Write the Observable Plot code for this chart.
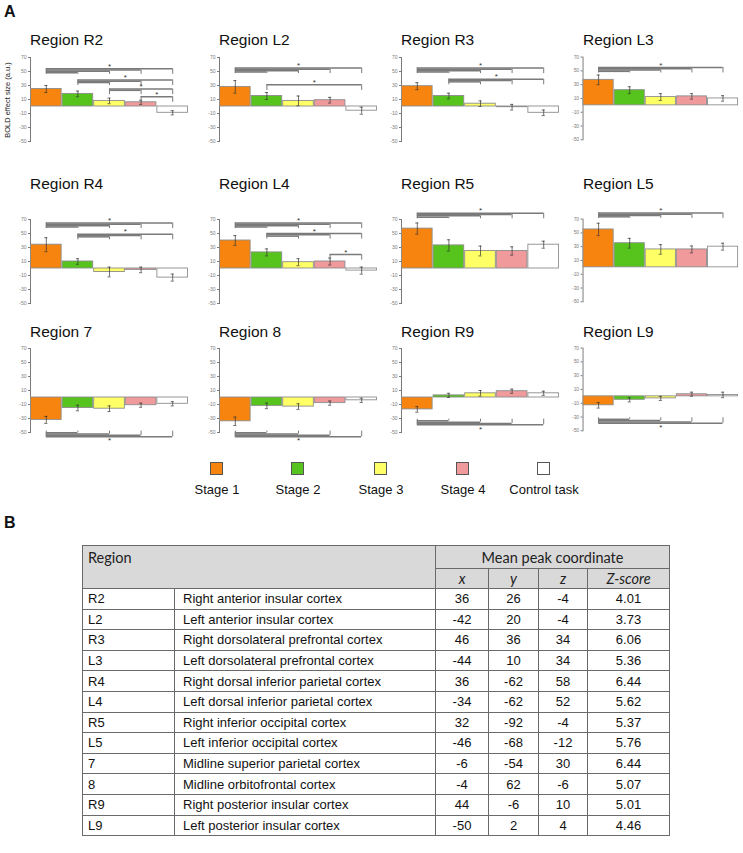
<!DOCTYPE html>
<html>
<head>
<meta charset="utf-8">
<script src="https://cdn.jsdelivr.net/npm/d3@7"></script>
<script src="https://cdn.jsdelivr.net/npm/@observablehq/plot@0.6"></script>
<style>
  html, body { margin: 0; padding: 0; background: #fff; }
  #page { position: relative; width: 743px; height: 853px; overflow: hidden; font-family: "Liberation Sans", Arial, sans-serif; color: #111; }
  .abs { position: absolute; }
  .panel-title { font-size: 15.5px; line-height: 16px; white-space: nowrap; color: #111; }
  .letter { font-weight: bold; font-size: 16px; line-height: 16px; }
  .leg-sw { position: absolute; width: 13px; height: 13px; border: 1px solid #555; box-sizing: border-box; }
  .leg-lab { position: absolute; font-size: 13px; line-height: 13px; white-space: nowrap; transform: translateX(-50%); }
  table.tb { position: absolute; left: 82px; top: 545px; border-collapse: collapse; table-layout: fixed; width: 587px; }
  table.tb td { border: 1px solid #6a6a6a; padding: 0; font-size: 13px; color: #111; }
  table.tb tr.h1 td, table.tb tr.h2 td { background: #d9d9d9; font-family: Lato, "Open Sans", sans-serif; font-size: 14.5px; color: #222; }
  table.tb tr.h1 td { height: 22px; }
  table.tb tr.h2 td { height: 19px; font-style: italic; text-align: center; }
  table.tb tr.d td { height: 19.6px; }
  table.tb td.c { text-align: center; }
</style>
</head>
<body>
<div id="page"></div>
<script>
// ---------- data ----------
const stages = ["Stage 1", "Stage 2", "Stage 3", "Stage 4", "Control task"];
const stageColors = ["#f7840f", "#56c41c", "#ffff66", "#f09a9c", "#ffffff"];
const regions = ["R2", "L2", "R3", "L3", "R4", "L4", "R5", "L5", "7", "8", "R9", "L9"];
const yTicks = [70, 50, 30, 10, -10, -30, -50];

// mean BOLD effect size per region (stage 1..4, control)
const means = [
  [25, 18, 8, 6, -9],
  [28, 15, 8, 9, -6],
  [29, 15, 4, -1, -9],
  [37, 22, 12, 13, 10],
  [34, 10, -5, -2, -13],
  [40, 23, 9, 10, -3],
  [57, 33, 25, 25, 34],
  [55, 35, 26, 26, 30],
  [-32, -15, -16, -11, -9],
  [-34, -12, -13, -8, -4],
  [-17, 3, 6, 9, 6],
  [-13, -5, -3, 3, 2]
];
// error bar half-lengths
const errors = [
  [5, 4, 4, 3, 3],
  [9, 5, 7, 4, 5],
  [5, 4, 4, 4, 4],
  [7, 5, 5, 4, 4],
  [10, 4, 7, 4, 5],
  [7, 5, 5, 5, 5],
  [8, 8, 7, 6, 5],
  [9, 7, 7, 5, 5],
  [5, 4, 4, 3, 3],
  [6, 4, 4, 3, 3],
  [4, 3, 4, 3, 3],
  [4, 3, 3, 3, 4]
];
// significance brackets: [from bar, [to bars], level (negative = below)]
const brackets = [
  [[0, [1, 2, 3, 4], 54], [1, [2, 3, 4], 38], [2, [3, 4], 25], [3, [4], 14]],
  [[0, [1, 2, 3, 4], 55], [1, [4], 31]],
  [[0, [1, 2, 3, 4], 55], [1, [2, 3, 4], 39]],
  [[0, [1, 2, 3, 4], 55]],
  [[0, [1, 2, 3, 4], 65], [1, [2, 3, 4], 49]],
  [[0, [1, 2, 3, 4], 65], [1, [2, 3, 4], 50], [3, [4], 20]],
  [[0, [1, 2, 3, 4], 79]],
  [[0, [1, 2, 3, 4], 79]],
  [[0, [1, 2, 3, 4], -56]],
  [[0, [1, 2, 3, 4], -56]],
  [[0, [1, 2, 3, 4], -39]],
  [[0, [1, 2, 3, 4], -39]]
];

// table
const tRegion = ["R2", "L2", "R3", "L3", "R4", "L4", "R5", "L5", "7", "8", "R9", "L9"];
const tName = [
  "Right anterior insular cortex", "Left anterior insular cortex",
  "Right dorsolateral prefrontal cortex", "Left dorsolateral prefrontal cortex",
  "Right dorsal inferior parietal cortex", "Left dorsal inferior parietal cortex",
  "Right inferior occipital cortex", "Left inferior occipital cortex",
  "Midline superior parietal cortex", "Midline orbitofrontal cortex",
  "Right posterior insular cortex", "Left posterior insular cortex"
];
const tX = [36, -42, 46, -44, 36, -34, 32, -46, -6, -4, 44, -50];
const tY = [26, 20, 36, 10, -62, -62, -92, -68, -54, 62, -6, 2];
const tZ = [-4, -4, 34, 34, 58, 52, -4, -12, 30, -6, 10, 4];
const tScore = ["4.01", "3.73", "6.06", "5.36", "6.44", "5.62", "5.37", "5.76", "6.44", "5.07", "5.01", "4.46"];

// ---------- layout ----------
const page = document.getElementById("page");
const colX = [30, 219, 401, 583];
const rowY70 = [57, 219, 348];
const titleTop = [32, 176, 324];
const mL = 30, mR = 5, mT = 25, mB = 25, plotW = 158, plotH = 84;

function add(html, cls, style) {
  const d = document.createElement("div");
  d.className = cls;
  d.innerHTML = html;
  Object.assign(d.style, style);
  page.appendChild(d);
  return d;
}

add("A", "abs letter", {left: "4px", top: "4px"});
add("B", "abs letter", {left: "4px", top: "515px"});

regions.forEach((r, k) => {
  const row = Math.floor(k / 4), col = k % 4;
  const bars = means[k].map((v, i) => ({i, v, e: errors[k][i], fill: stageColors[i]}));
  const hSegs = [], vSegs = [], stars = [];
  const step = 1.9, tick = 8;
  brackets[k].forEach(([from, tos, level]) => {
    const d = level > 0 ? 1 : -1;
    const sorted = tos.slice().sort((a, b) => Math.abs(b - from) - Math.abs(a - from));
    sorted.forEach((t, n) => {
      const y = level - d * n * step;
      hSegs.push({x1: from, x2: t, y});
      vSegs.push({x: t, y1: y, y2: level - d * tick});
    });
    vSegs.push({x: from, y1: level, y2: level - d * tick});
    stars.push({x: (from + sorted[0]) / 2, y: level + d * (d > 0 ? 3.5 : 6)});
  });

  const chart = Plot.plot({
    width: mL + plotW + mR,
    height: mT + plotH + mB,
    marginLeft: mL, marginRight: mR, marginTop: mT, marginBottom: mB,
    x: {domain: [-0.5, 4.5], axis: null},
    y: {domain: [-50, 70], ticks: yTicks, tickFormat: d => String(d), tickSize: 2, tickPadding: 2, line: true, label: null},
    color: {type: "identity"},
    style: {fontSize: "5px", fontFamily: "Liberation Sans, Arial, sans-serif", color: "#7a7a7a", background: "transparent", overflow: "visible"},
    marks: [
      Plot.rectY(bars, {x1: d => d.i - 0.485, x2: d => d.i + 0.485, y1: 0, y2: "v", fill: "fill", stroke: "#8d8d8d", strokeWidth: 0.9}),
      Plot.ruleX(bars, {x: "i", y1: d => d.v - d.e, y2: d => d.v + d.e, stroke: "#333", strokeWidth: 0.7}),
      Plot.ruleY(bars, {y: d => d.v + d.e, x1: d => d.i - 0.05, x2: d => d.i + 0.05, stroke: "#333", strokeWidth: 0.7}),
      Plot.ruleY(bars, {y: d => d.v - d.e, x1: d => d.i - 0.05, x2: d => d.i + 0.05, stroke: "#333", strokeWidth: 0.7}),
      Plot.ruleY(hSegs, {y: "y", x1: "x1", x2: "x2", stroke: "#7a7a7a", strokeWidth: 1.5}),
      Plot.ruleX(vSegs, {x: "x", y1: "y1", y2: "y2", stroke: "#7a7a7a", strokeWidth: 1}),
      Plot.text(stars, {x: "x", y: "y", text: () => "*", fontSize: 8, fill: "#333"})
    ]
  });
  const wrap = document.createElement("div");
  wrap.className = "abs";
  wrap.style.left = (colX[col] - mL) + "px";
  wrap.style.top = (rowY70[row] - mT) + "px";
  wrap.appendChild(chart);
  page.appendChild(wrap);

  add("Region " + r, "abs panel-title", {left: colX[col] + "px", top: titleTop[row] + "px"});
});

// y-axis label
add("BOLD effect size (a.u.)", "abs", {
  left: "7px", top: "100px", fontSize: "7.5px", whiteSpace: "nowrap", color: "#222",
  transform: "translate(-50%,-50%) rotate(-90deg)"
});

// legend
const legX = [217, 298, 381, 463, 544];
stages.forEach((s, i) => {
  const sw = document.createElement("div");
  sw.className = "leg-sw";
  Object.assign(sw.style, {left: (legX[i] - 7) + "px", top: "462px", background: stageColors[i]});
  page.appendChild(sw);
  add(s, "leg-lab", {left: legX[i] + "px", top: "483px"});
});

// table
const tb = document.createElement("table");
tb.className = "tb";
const widths = [92, 261, 53, 50, 49, 82];
let html = "<colgroup>" + widths.map(w => `<col style="width:${w}px">`).join("") + "</colgroup>";
html += `<tr class="h1"><td colspan="2" rowspan="2" style="vertical-align:top;padding:3px 0 0 5px;">Region</td><td colspan="4" class="c">Mean peak coordinate</td></tr>`;
html += `<tr class="h2"><td>x</td><td>y</td><td>z</td><td>Z-score</td></tr>`;
tRegion.forEach((r, i) => {
  html += `<tr class="d"><td style="padding-left:5px">${r}</td><td style="padding-left:8px">${tName[i]}</td><td class="c">${tX[i]}</td><td class="c">${tY[i]}</td><td class="c">${tZ[i]}</td><td class="c">${tScore[i]}</td></tr>`;
});
tb.innerHTML = html;
page.appendChild(tb);
</script>
</body>
</html>
